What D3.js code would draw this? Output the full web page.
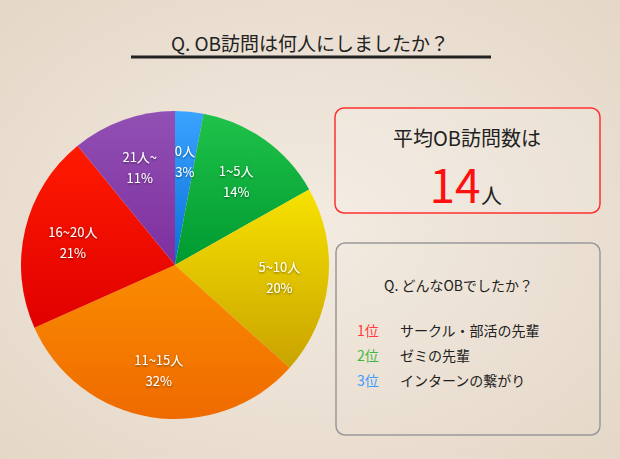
<!DOCTYPE html>
<html lang="ja">
<head>
<meta charset="utf-8">
<script src="https://cdn.jsdelivr.net/npm/d3@7"></script>
<style>
body { margin:0; background:#efe5d9; }
text { font-family: "Noto Sans CJK JP", sans-serif; }
</style>
</head>
<body>
<script>
// data
var categories = ["0人", "1~5人", "5~10人", "11~15人", "16~20人", "21人~"];
var values = [3, 14, 20, 32, 21, 11];
var colorsTop = ["#3aa3ff", "#1fc24a", "#f7e200", "#fa8c00", "#ff1a00", "#9150b4"];
var colorsBot = ["#0a6fd8", "#009a30", "#c9a300", "#ef6a00", "#e00000", "#7e2f9e"];
var ranks = ["1位", "2位", "3位"];
var rankText = ["サークル・部活の先輩", "ゼミの先輩", "インターンの繋がり"];
var rankColors = ["#ff3b3b", "#3db83d", "#3b9cff"];

var w = 620, h = 459;
var svg = d3.select("body").append("svg").attr("width", w).attr("height", h);
var defs = svg.append("defs");

// paper background with soft vignette
var bg = defs.append("radialGradient").attr("id", "bg").attr("r", "75%");
bg.append("stop").attr("offset", "0%").attr("stop-color", "#f3ebe1");
bg.append("stop").attr("offset", "100%").attr("stop-color", "#e3d6c6");
svg.append("rect").attr("width", w).attr("height", h).attr("fill", "url(#bg)");

var sh = defs.append("filter").attr("id", "sh");
sh.append("feDropShadow").attr("dx", 0).attr("dy", 1).attr("stdDeviation", 0.8)
	.attr("flood-color", "#000").attr("flood-opacity", 0.5);

// title
svg.append("text").attr("x", 310).attr("y", 51).attr("text-anchor", "middle")
	.attr("font-size", 19).attr("fill", "#222").text("Q. OB訪問は何人にしましたか？");
svg.append("line").attr("x1", 131).attr("x2", 491).attr("y1", 57).attr("y2", 57)
	.attr("stroke", "#222").attr("stroke-width", 3);

// pie
var cx = 175, cy = 265, r = 154;
var pie = d3.pie().sort(null)(values);
var arc = d3.arc().innerRadius(0).outerRadius(r);
var labelArc = d3.arc().innerRadius(105).outerRadius(105);

categories.forEach(function(c, i) {
	var g = defs.append("linearGradient").attr("id", "g" + i)
		.attr("x1", 0).attr("y1", 0).attr("x2", 0).attr("y2", 1);
	g.append("stop").attr("offset", "0%").attr("stop-color", colorsTop[i]);
	g.append("stop").attr("offset", "100%").attr("stop-color", colorsBot[i]);
});

var pg = svg.append("g").attr("transform", "translate(" + cx + "," + cy + ")");
pg.selectAll("path").data(pie).enter().append("path")
	.attr("d", arc)
	.attr("fill", function(d, i) { return "url(#g" + i + ")"; });

var lab = pg.selectAll("g.lab").data(pie).enter().append("g")
	.attr("class", "lab")
	.attr("transform", function(d) { return "translate(" + labelArc.centroid(d) + ")"; })
	.attr("fill", "#fff").attr("font-size", 13).attr("text-anchor", "middle")
	.attr("filter", "url(#sh)");
lab.append("text").attr("y", -4).text(function(d, i) { return categories[i]; });
lab.append("text").attr("y", 17).text(function(d) { return d.data + "%"; });

// red summary box
svg.append("rect").attr("x", 335).attr("y", 108).attr("width", 265).attr("height", 105)
	.attr("rx", 9).attr("fill", "#fff").attr("fill-opacity", 0.15)
	.attr("stroke", "#ff3030").attr("stroke-width", 1.5);
svg.append("text").attr("x", 467).attr("y", 146).attr("text-anchor", "middle")
	.attr("font-size", 20).attr("fill", "#222").text("平均OB訪問数は");
svg.append("text").attr("x", 455).attr("y", 203).attr("text-anchor", "middle")
	.attr("font-size", 46).attr("fill", "#ff1010").text("14");
svg.append("text").attr("x", 481).attr("y", 203)
	.attr("font-size", 21).attr("fill", "#222").text("人");

// gray ranking box
svg.append("rect").attr("x", 336).attr("y", 243).attr("width", 264).attr("height", 192)
	.attr("rx", 9).attr("fill", "none").attr("stroke", "#999").attr("stroke-width", 1.5);
svg.append("text").attr("x", 384).attr("y", 291)
	.attr("font-size", 14).attr("fill", "#222").text("Q. どんなOBでしたか？");
ranks.forEach(function(rk, i) {
	var y = 336 + i * 25;
	svg.append("text").attr("x", 357).attr("y", y).attr("font-size", 14)
		.attr("fill", rankColors[i]).text(rk);
	svg.append("text").attr("x", 400).attr("y", y).attr("font-size", 14)
		.attr("fill", "#222").text(rankText[i]);
});
</script>
</body>
</html>
